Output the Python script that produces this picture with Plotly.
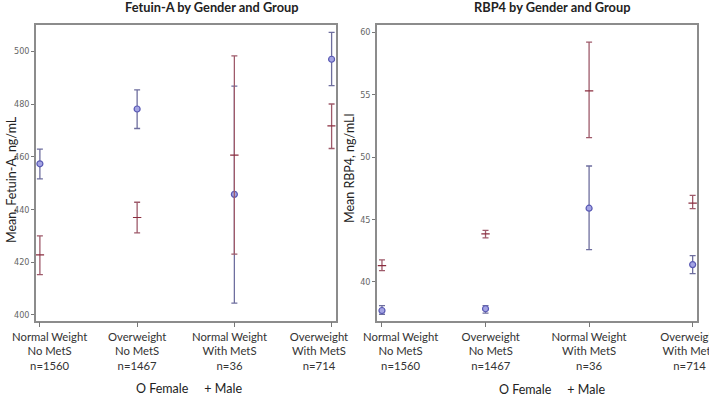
import plotly.graph_objects as go

categories = ["Normal Weight<br>No MetS<br>n=1560", "Overweight<br>No MetS<br>n=1467",
              "Normal Weight<br>With MetS<br>n=36", "Overweight<br>With MetS<br>n=714"]
x_pos = [1, 2, 3, 4]

fet_f_mean = [457.3, 478.1, 445.7, 497.0]
fet_f_lo = [451.6, 470.7, 404.4, 487.0]
fet_f_hi = [462.9, 485.4, 486.8, 507.2]
fet_m_mean = [422.7, 436.9, 460.6, 471.7]
fet_m_lo = [415.2, 431.1, 423.0, 463.1]
fet_m_hi = [429.9, 442.7, 498.3, 480.0]

rbp_f_mean = [37.70, 37.84, 45.90, 41.38]
rbp_f_lo = [37.40, 37.49, 42.58, 40.66]
rbp_f_hi = [38.10, 38.10, 49.28, 42.10]
rbp_m_mean = [41.30, 43.84, 55.30, 46.30]
rbp_m_lo = [40.90, 43.52, 51.55, 45.86]
rbp_m_hi = [41.76, 44.13, 59.20, 46.93]

fet_ticks = [400, 420, 440, 460, 480, 500]
rbp_ticks = [40, 45, 50, 55, 60]

F_COL = "#5a5ab4"
F_ERR = "#6e6e9e"
M_COL = "#8a2c3e"
M_ERR = "#9e5a6a"

fig = go.Figure()


def add_series(xa, ya, mean, lo, hi, symbol, col, ecol, msize, filled):
    fig.add_trace(go.Scatter(
        x=x_pos, y=mean, mode="markers", xaxis=xa, yaxis=ya, showlegend=False,
        marker=dict(symbol=symbol, size=msize, color=("#a4a4e4" if filled else col),
                    line=dict(color=col, width=1.2)),
        error_y=dict(type="data", symmetric=False,
                     array=[h - m for h, m in zip(hi, mean)],
                     arrayminus=[m - l for m, l in zip(mean, lo)],
                     color=ecol, thickness=1.3, width=3),
    ))


add_series("x", "y", fet_f_mean, fet_f_lo, fet_f_hi, "circle", F_COL, F_ERR, 6, True)
add_series("x", "y", fet_m_mean, fet_m_lo, fet_m_hi, "line-ew", M_COL, M_ERR, 6, False)
add_series("x2", "y2", rbp_f_mean, rbp_f_lo, rbp_f_hi, "circle", F_COL, F_ERR, 6, True)
add_series("x2", "y2", rbp_m_mean, rbp_m_lo, rbp_m_hi, "line-ew", M_COL, M_ERR, 6, False)

W, H = 709, 396
ydom = [1 - 320.5 / H, 1 - 25 / H]
left_dom = [36 / W, 335.5 / W]
right_dom = [377 / W, 697 / W]
left_range = [0.96, 4.04]
right_range = [0.952, 4.042]

# label placement (layout only): labels are spread slightly differently from tick marks
left_label_shift = [0.10, 0.0, -0.05, -0.13]
right_label_shift = [0.18, 0.05, 0.0, -0.03]

xcommon = dict(showgrid=False, zeroline=False, fixedrange=True, automargin=False)
xframe = dict(tickvals=x_pos, showticklabels=False,
              showline=True, mirror=True, linecolor="#8c8c8c", linewidth=1.5,
              ticks="outside", ticklen=5, tickcolor="#777", tickwidth=1, **xcommon)
xlabels = dict(showline=False, ticks="", ticklabeloverflow="allow", ticklabelstandoff=8,
               tickfont=dict(family="Lato, Noto Sans, sans-serif", size=11.3, color="#333"),
               **xcommon)
ycommon = dict(showgrid=False, zeroline=False, showline=True, mirror=True,
               linecolor="#8c8c8c", linewidth=1.5, ticks="outside", ticklen=3,
               tickcolor="#777", tickwidth=1,
               tickfont=dict(family="Liberation Sans Narrow, DejaVu Sans Condensed, sans-serif",
                             size=9, color="#666"),
               automargin=False, fixedrange=True)

fig.update_layout(
    width=W, height=H, margin=dict(l=0, r=0, t=0, b=0),
    paper_bgcolor="white", plot_bgcolor="white",
    xaxis=dict(domain=left_dom, range=left_range, **xframe),
    yaxis=dict(domain=ydom, range=[397.8, 510.0], tickvals=fet_ticks, **ycommon),
    xaxis2=dict(domain=right_dom, range=right_range, anchor="y2", **xframe),
    yaxis2=dict(domain=ydom, range=[36.9, 60.58], tickvals=rbp_ticks, anchor="x2", **ycommon),
    xaxis3=dict(domain=left_dom, range=left_range, anchor="y", overlaying="x",
                tickvals=[p + s for p, s in zip(x_pos, left_label_shift)],
                ticktext=categories, **xlabels),
    xaxis4=dict(domain=right_dom, range=right_range, anchor="y2", overlaying="x2",
                tickvals=[p + s for p, s in zip(x_pos, right_label_shift)],
                ticktext=categories, **xlabels),
)
# invisible anchor traces so the label axes are drawn
fig.add_trace(go.Scatter(x=[None], y=[None], xaxis="x3", yaxis="y", showlegend=False,
                         hoverinfo="skip"))
fig.add_trace(go.Scatter(x=[None], y=[None], xaxis="x4", yaxis="y2", showlegend=False,
                         hoverinfo="skip"))

tfont = dict(family="Lato, Noto Sans, sans-serif", size=12.8, color="#222")
fig.add_annotation(text="<b>Fetuin-A by Gender and Group</b>", x=212 / W, y=1 - 7 / H,
                   xref="paper", yref="paper", showarrow=False, font=tfont,
                   xanchor="center", yanchor="middle")
fig.add_annotation(text="<b>RBP4 by Gender and Group</b>", x=552 / W, y=1 - 7 / H,
                   xref="paper", yref="paper", showarrow=False, font=tfont,
                   xanchor="center", yanchor="middle")

afont = dict(family="Lato, Noto Sans, sans-serif", size=12.5, color="#222")
fig.add_annotation(text="Mean, Fetuin-A, ng/mL", x=11 / W, y=1 - 180 / H, textangle=-90,
                   xref="paper", yref="paper", showarrow=False, font=afont,
                   xanchor="center", yanchor="middle")
fig.add_annotation(text="Mean RBP4, ng/mLl", x=350 / W, y=1 - 169 / H, textangle=-90,
                   xref="paper", yref="paper", showarrow=False, font=afont,
                   xanchor="center", yanchor="middle")

lfont = dict(family="Lato, Noto Sans, sans-serif", size=12.5, color="#222")
fig.add_annotation(text="O Female&nbsp;&nbsp;&nbsp;&nbsp; + Male", x=189 / W, y=1 - 388 / H,
                   xref="paper", yref="paper", showarrow=False, font=lfont,
                   xanchor="center", yanchor="middle")
fig.add_annotation(text="O Female&nbsp;&nbsp;&nbsp;&nbsp; + Male", x=552 / W, y=1 - 389 / H,
                   xref="paper", yref="paper", showarrow=False, font=lfont,
                   xanchor="center", yanchor="middle")

fig.write_html("out.html", config={"displayModeBar": False},
               post_script="document.body.style.margin='0';document.body.style.overflow='hidden';")
